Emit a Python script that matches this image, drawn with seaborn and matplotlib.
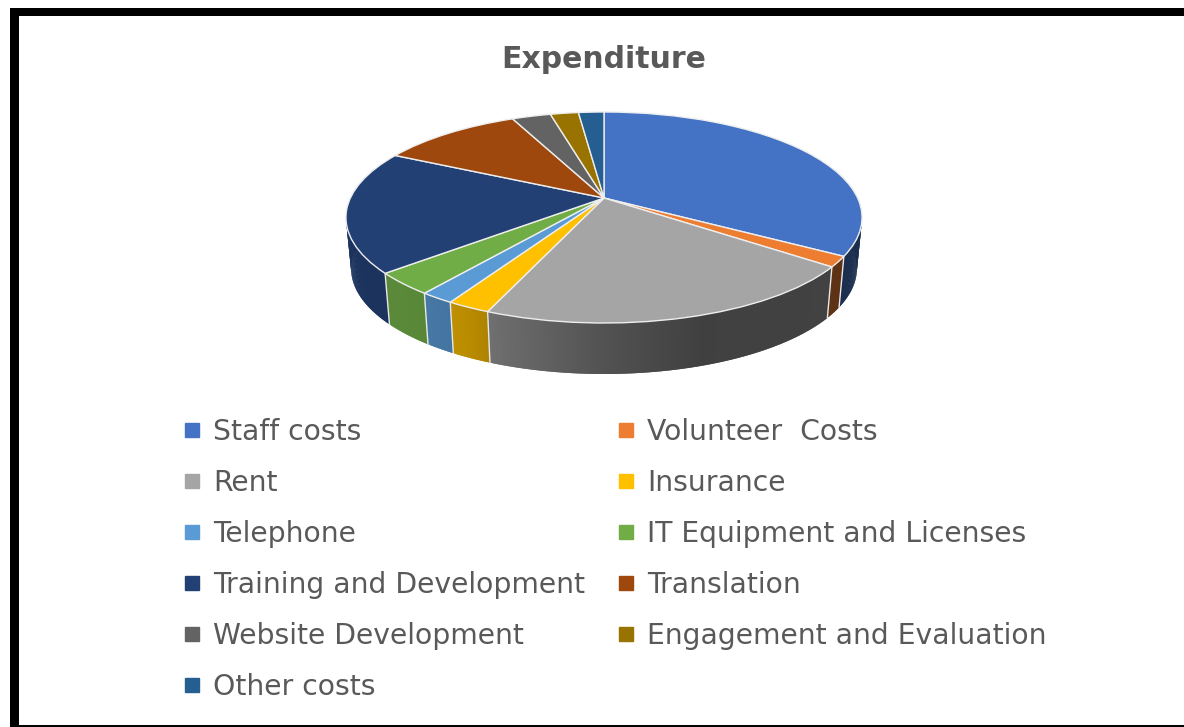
import numpy as np
import matplotlib
matplotlib.use("Agg")
import matplotlib.pyplot as plt
import matplotlib.transforms as mtransforms
from matplotlib.collections import PolyCollection
from matplotlib.lines import Line2D
from matplotlib.patches import Rectangle
import seaborn as sns

labels = ["Staff costs", "Volunteer  Costs", "Rent", "Insurance", "Telephone",
          "IT Equipment and Licenses", "Training and Development", "Translation",
          "Website Development", "Engagement and Evaluation", "Other costs"]
values = [33.6, 1.6, 20.9, 2.3, 1.8, 3.4, 18.7, 10.6, 2.9, 2.1, 1.9]
colors = ["#4472C4", "#ED7D31", "#A5A5A5", "#FFC000", "#5B9BD5", "#70AD47",
          "#234075", "#9E480E", "#636363", "#997300", "#255E91"]

# look of the tilted pie, in pixels of the picture
CX, CY = 604, 198
A, B, K = 253.6, 101.9, 0.1847
DEPTH = 51
SHADE_X = [347, 400, 440, 470, 490, 600, 700, 860]
SHADE = [0.80, 0.80, 0.76, 0.72, 0.67, 0.50, 0.39, 0.40]
TEXT = "#595959"

sns.set_theme(style="white")
plt.rcParams["font.family"] = ["DejaVu Sans"]


def project(u, v, drop=0.0, shrink=1.0):
    u, v = np.asarray(u), np.asarray(v)
    w = 1 + K * v
    return CX + shrink * A * u / w, CY + drop - B * v / w


class Tilt(mtransforms.Transform):
    input_dims = output_dims = 2

    def transform_non_affine(self, xy):
        xy = np.asarray(xy)
        return np.column_stack(project(xy[:, 0], xy[:, 1]))


fig = plt.figure(figsize=(11.84, 7.27), dpi=100)
ax = fig.add_axes([0, 0, 1, 1])
palette = sns.color_palette(colors)

wedges, _ = ax.pie(values, colors=palette, startangle=90, counterclock=False,
                   wedgeprops=dict(edgecolor="#eeeeee", linewidth=1.0, zorder=3))
ax.set_aspect("auto")
ax.set_xlim(0, 1184)
ax.set_ylim(727, 0)
ax.axis("off")
tilt = Tilt() + ax.transData
for w in wedges:
    w.set_transform(tilt)

# side wall of the pie, strips overlap by one step so no seams show
polys, faces = [], []
for w, c in zip(wedges, palette):
    th = np.radians(np.arange(w.theta1, w.theta2 + 0.5, 0.5))
    th[-1] = np.radians(w.theta2)
    u, v = np.cos(th), np.sin(th)
    x0, y0 = project(u, v)
    x1, y1 = project(u, v, DEPTH, 0.98)
    for i in range(len(th) - 1):
        if v[i] > 0.3:
            continue
        j = min(i + 2, len(th) - 1)
        polys.append([(x0[i], y0[i]), (x0[j], y0[j]), (x1[j], y1[j]), (x1[i], y1[i])])
        faces.append(np.array(c) * np.interp(x0[i], SHADE_X, SHADE))
    if v[-1] < 0.3:
        ax.plot([x0[-1], x1[-1]], [y0[-1], y1[-1]], color="#e8e8e8", lw=1.0, zorder=2)
ax.add_collection(PolyCollection(polys, facecolors=faces, edgecolors="none", zorder=1))

ax.text(CX, 59, "Expenditure", ha="center", va="center", fontsize=21.5, fontweight="bold", color=TEXT)

# legend fills column by column, so take the entries apart
order = list(range(0, 11, 2)) + list(range(1, 11, 2))
handles = [Line2D([], [], ls="", marker="s", ms=9.5, color=palette[i]) for i in order]
ax.legend(handles, [labels[i] for i in order], ncol=2, loc="upper left",
          bbox_to_anchor=(179.5, 417.5), bbox_transform=ax.transData, frameon=False,
          fontsize=20.3, labelcolor=TEXT, borderpad=0, borderaxespad=0,
          handlelength=0.9, handletextpad=0.28, labelspacing=0.82, columnspacing=1.03)

# black frame of the screenshot
ax.add_patch(Rectangle((10, 8), 9, 719, color="black", lw=0))
ax.add_patch(Rectangle((10, 8), 1174, 8, color="black", lw=0))
ax.add_patch(Rectangle((10, 725), 1174, 2, color="black", lw=0))

fig.savefig("out.png", dpi=100, facecolor="white")
